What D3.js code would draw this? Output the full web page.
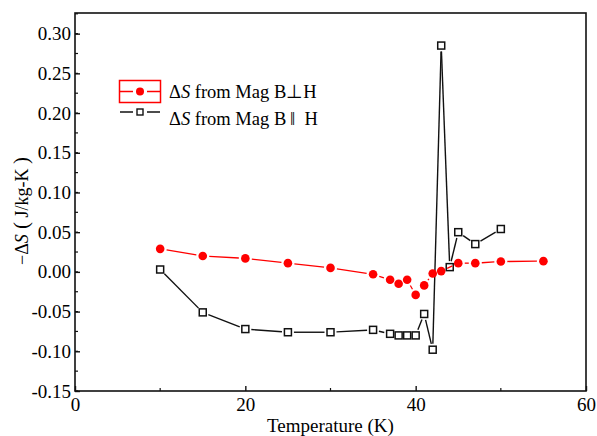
<!DOCTYPE html>
<html>
<head>
<meta charset="utf-8">
<script src="https://cdn.jsdelivr.net/npm/d3@7"></script>
<style>
  html, body { margin: 0; padding: 0; background: #fff; }
  svg { display: block; }
  text { font-family: "Liberation Serif", "Times New Roman", serif; fill: #000; }
</style>
</head>
<body>
<svg id="chart" width="597" height="436"></svg>
<script>
// Entropy change from magnetization, field perpendicular to B
const tempPerp = [10, 15, 20, 25, 30, 35, 37, 38, 39, 40, 41, 42, 43, 45, 47, 50, 55];
const dsPerp   = [0.029, 0.020, 0.017, 0.011, 0.005, -0.003, -0.010, -0.015, -0.010, -0.029, -0.017, -0.002, 0.001, 0.011, 0.011, 0.013, 0.0135];

// Entropy change from magnetization, field parallel to B
const tempPar = [10, 15, 20, 25, 30, 35, 37, 38, 39, 40, 41, 42, 43, 44, 45, 47, 50];
const dsPar   = [0.003, -0.051, -0.072, -0.076, -0.076, -0.073, -0.078, -0.080, -0.080, -0.080, -0.053, -0.098, 0.285, 0.006, 0.050, 0.035, 0.054];

const xTicks = [0, 20, 40, 60];
const xMinorTicks = [10, 30, 50];
const yTicks = [-0.15, -0.10, -0.05, 0.00, 0.05, 0.10, 0.15, 0.20, 0.25, 0.30];
const seriesLabels = ["from Mag B\u22A5H", "from Mag B\u2009\u2016\u2002H"];

const svg = d3.select("#chart");
const plot = { left: 75, top: 13, right: 586, bottom: 391 };

const x = d3.scaleLinear().domain([0, 60]).range([plot.left, plot.right]);
const y = d3.scaleLinear().domain([-0.15, 0.326]).range([plot.bottom, plot.top]);

// Frame
svg.append("rect")
  .attr("x", plot.left).attr("y", plot.top)
  .attr("width", plot.right - plot.left).attr("height", plot.bottom - plot.top)
  .attr("fill", "none").attr("stroke", "#111").attr("stroke-width", 1.6);

// Y minor ticks (inward)
const yMinor = d3.range(-0.15, 0.326, 0.025);
svg.append("g").selectAll("line").data(yMinor).join("line")
  .attr("x1", plot.left).attr("x2", plot.left + 3)
  .attr("y1", d => y(d)).attr("y2", d => y(d))
  .attr("stroke", "#111").attr("stroke-width", 1.2);

// Y axis
const yAxis = d3.axisLeft(y).tickValues(yTicks).tickSizeInner(-5).tickSizeOuter(0)
  .tickFormat(d => d3.format(".2f")(d).replace("\u2212", "-"));
const gy = svg.append("g").attr("transform", `translate(${plot.left},0)`).call(yAxis);
gy.select(".domain").remove();
gy.selectAll(".tick line").attr("stroke", "#111").attr("stroke-width", 1.4);
gy.selectAll(".tick text").attr("x", -4).attr("font-size", 19)
  .style("font-family", "Liberation Serif").attr("fill", "#000");

// X minor ticks (inward)
svg.append("g").selectAll("line").data(xMinorTicks).join("line")
  .attr("x1", d => x(d)).attr("x2", d => x(d))
  .attr("y1", plot.bottom).attr("y2", plot.bottom - 3)
  .attr("stroke", "#111").attr("stroke-width", 1.2);

// X axis
const xAxis = d3.axisBottom(x).tickValues(xTicks).tickSizeInner(-5).tickSizeOuter(0).tickFormat(d3.format("d"));
const gx = svg.append("g").attr("transform", `translate(0,${plot.bottom})`).call(xAxis);
gx.select(".domain").remove();
gx.selectAll(".tick line").attr("stroke", "#111").attr("stroke-width", 1.4);
gx.selectAll(".tick text").attr("y", 7).attr("font-size", 19)
  .style("font-family", "Liberation Serif").attr("fill", "#000");

// Axis titles
svg.append("text")
  .attr("x", (plot.left + plot.right) / 2).attr("y", 432)
  .attr("text-anchor", "middle").attr("font-size", 19)
  .text("Temperature (K)");

const yTitle = svg.append("text")
  .attr("transform", "translate(28,211) rotate(-90)")
  .attr("text-anchor", "middle").attr("font-size", 18);
yTitle.append("tspan").text("\u2212\u0394");
yTitle.append("tspan").attr("font-style", "italic").text("S");
yTitle.append("tspan").attr("font-size", 21).text(" (");
yTitle.append("tspan").text(" J/kg-K ");
yTitle.append("tspan").attr("font-size", 21).text(")");

// Lines drawn as segments that stop short of each marker
function gappedSegments(xs, ys, gap) {
  const pts = xs.map((t, i) => [x(t), y(ys[i])]);
  const segs = [];
  for (let i = 0; i < pts.length - 1; i++) {
    const [x1, y1] = pts[i], [x2, y2] = pts[i + 1];
    const len = Math.hypot(x2 - x1, y2 - y1);
    if (len <= 2 * gap) continue;
    const ux = (x2 - x1) / len, uy = (y2 - y1) / len;
    segs.push([x1 + ux * gap, y1 + uy * gap, x2 - ux * gap, y2 - uy * gap]);
  }
  return segs;
}

// Parallel series (black, open squares)
svg.append("g").selectAll("line").data(gappedSegments(tempPar, dsPar, 6)).join("line")
  .attr("x1", d => d[0]).attr("y1", d => d[1]).attr("x2", d => d[2]).attr("y2", d => d[3])
  .attr("stroke", "#111").attr("stroke-width", 1.4);
const sq = 7;
svg.append("g").selectAll("rect").data(tempPar.map((t, i) => [t, dsPar[i]])).join("rect")
  .attr("x", d => x(d[0]) - sq / 2).attr("y", d => y(d[1]) - sq / 2)
  .attr("width", sq).attr("height", sq)
  .attr("fill", "#fff").attr("stroke", "#111").attr("stroke-width", 1.5);

// Perpendicular series (red, filled circles)
svg.append("g").selectAll("line").data(gappedSegments(tempPerp, dsPerp, 6.5)).join("line")
  .attr("x1", d => d[0]).attr("y1", d => d[1]).attr("x2", d => d[2]).attr("y2", d => d[3])
  .attr("stroke", "#f00").attr("stroke-width", 1.3);
svg.append("g").selectAll("circle").data(tempPerp.map((t, i) => [t, dsPerp[i]])).join("circle")
  .attr("cx", d => x(d[0])).attr("cy", d => y(d[1])).attr("r", 4.3)
  .attr("fill", "#f00");

// Legend
const lg = svg.append("g");
lg.append("rect").attr("x", 119.5).attr("y", 80.5).attr("width", 41).attr("height", 22)
  .attr("fill", "none").attr("stroke", "#f00").attr("stroke-width", 1.5);
lg.append("line").attr("x1", 120).attr("x2", 133).attr("y1", 91.5).attr("y2", 91.5)
  .attr("stroke", "#f00").attr("stroke-width", 1.5);
lg.append("line").attr("x1", 147).attr("x2", 160).attr("y1", 91.5).attr("y2", 91.5)
  .attr("stroke", "#f00").attr("stroke-width", 1.5);
lg.append("circle").attr("cx", 140).attr("cy", 91.5).attr("r", 4).attr("fill", "#f00");

lg.append("line").attr("x1", 120).attr("x2", 133).attr("y1", 112).attr("y2", 112)
  .attr("stroke", "#111").attr("stroke-width", 1.5);
lg.append("line").attr("x1", 147).attr("x2", 160).attr("y1", 112).attr("y2", 112)
  .attr("stroke", "#111").attr("stroke-width", 1.5);
lg.append("rect").attr("x", 137).attr("y", 109).attr("width", 6).attr("height", 6)
  .attr("fill", "#fff").attr("stroke", "#111").attr("stroke-width", 1.4);

seriesLabels.forEach((lbl, i) => {
  const t = lg.append("text").attr("x", 169).attr("y", i === 0 ? 98 : 125).attr("font-size", 18.5);
  t.append("tspan").text("\u0394");
  t.append("tspan").attr("font-style", "italic").text("S");
  t.append("tspan").text(" " + lbl);
});
</script>
</body>
</html>
